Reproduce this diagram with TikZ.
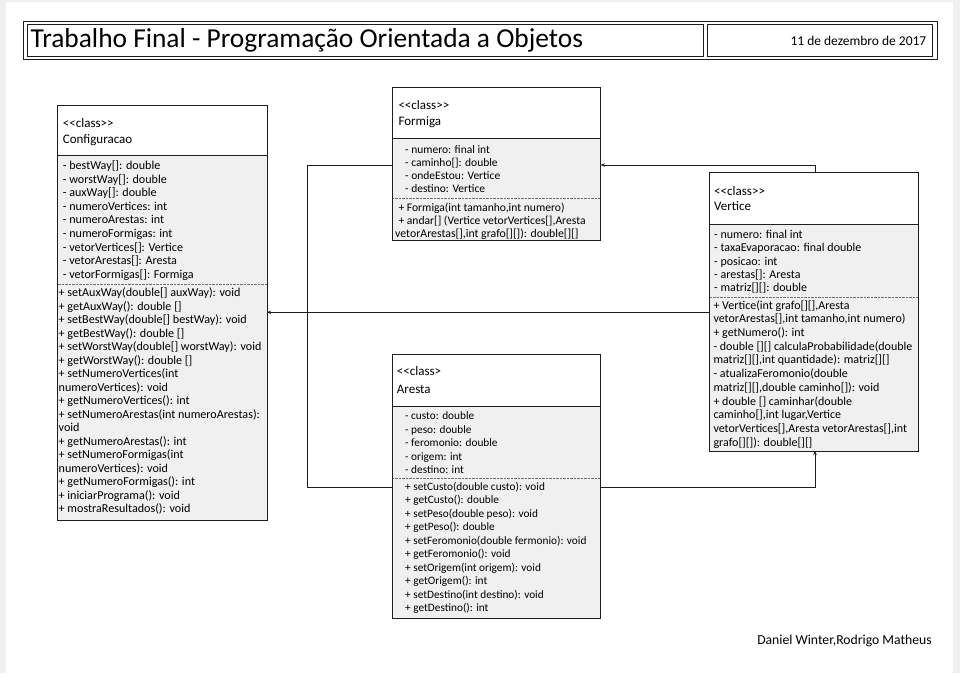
\documentclass[tikz,border=0pt]{standalone}
\usepackage{fontspec}
\setmainfont{Carlito}
\usetikzlibrary{arrows.meta}
\definecolor{bodyfill}{HTML}{F0F0F0}
\definecolor{pagegray}{HTML}{F0F0F0}
\definecolor{linec}{HTML}{1E1E1E}
\definecolor{sepc}{HTML}{707070}
\begin{document}
\begin{tikzpicture}[x=1pt,y=-1pt,
  classbody/.style={draw=linec, line width=0.9pt, fill=bodyfill, anchor=north west, inner sep=0, outer sep=0},
  classhead/.style={draw=linec, line width=0.9pt, fill=white, anchor=north west, inner sep=0, outer sep=0},
  sepline/.style={draw=sepc, line width=0.6pt, dash pattern=on 0.7pt off 0.7pt},
  txt/.style={font=\fontsize{#1}{13.5}\selectfont, inner sep=0, anchor=base west},
  txt/.default=12.1,
  hdr/.style={font=\fontsize{13}{15}\selectfont, inner sep=0, anchor=base west},
  conn/.style={draw=linec, line width=0.9pt},
  tip/.tip={Stealth[length=4pt,width=3.5pt]},
  frame/.style={draw=linec, line width=0.9pt, anchor=north west, inner sep=0, outer sep=0}
]
\useasboundingbox (0,0) rectangle (960,673);
\fill[pagegray] (0,0) rectangle (960,673);
\fill[white] (6,2) rectangle (953,673);

% ---------- title block ----------
\node[frame, minimum width=914, minimum height=38.5] (tframe) at (23,21) {};
\node[frame, minimum width=675.5, minimum height=32] (tcell) at (27.5,24) {};
\node[frame, minimum width=225, minimum height=32] (dcell) at (707.5,24) {};
\node[inner sep=0, anchor=base west, font=\fontsize{27.4}{30}\selectfont] (title) at (30.5,47.5) {Trabalho Final - Programação Orientada a Objetos};
\node[inner sep=0, anchor=base east, font=\fontsize{13.5}{15}\selectfont] (date) at (926.5,45) {11 de dezembro de 2017};

% ---------- Configuracao ----------
\node[classbody, minimum width=210, minimum height=415] (conf) at (57,105) {};
\node[classhead, minimum width=210, minimum height=50] (confh) at (57,105) {};
\draw[sepline] (57.5,284) -- (266.5,284);
\node[hdr] (confs) at (62.7,127) {<{}<class>{}>};
\node[hdr] (confn) at (62.7,143) {Configuracao};
\foreach \t [count=\i from 0] in {{- bestWay[]: double},{- worstWay[]: double},{- auxWay[]: double},{- numeroVertices: int},{- numeroArestas: int},{- numeroFormigas: int},{- vetorVertices[]: Vertice},{- vetorArestas[]: Aresta},{- vetorFormigas[]: Formiga}}
  \node[txt] (ca\i) at (62.7,169.5+13.6*\i) {\t};
\foreach \t [count=\i from 0] in {{+ setAuxWay(double[] auxWay): void},{+ getAuxWay(): double []},{+ setBestWay(double[] bestWay): void},{+ getBestWay(): double []},{+ setWorstWay(double[] worstWay): void},{+ getWorstWay(): double []},{+ setNumeroVertices(int},{numeroVertices): void},{+ getNumeroVertices(): int},{+ setNumeroArestas(int numeroArestas):},{void},{+ getNumeroArestas(): int},{+ setNumeroFormigas(int},{numeroVertices): void},{+ getNumeroFormigas(): int},{+ iniciarPrograma(): void},{+ mostraResultados(): void}}
  \node[txt] (cm\i) at (58.5,296.5+13.5*\i) {\t};

% ---------- Formiga ----------
\node[classbody, minimum width=208, minimum height=153] (form) at (392.7,87.3) {};
\node[classhead, minimum width=208, minimum height=50.7] (formh) at (392.7,87.3) {};
\draw[sepline] (393.2,198) -- (600.2,198);
\node[hdr] (forms) at (398.3,109) {<{}<class>{}>};
\node[hdr] (formn) at (398.3,125.7) {Formiga};
\foreach \t [count=\i from 0] in {{- numero: final int},{- caminho[]: double},{- ondeEstou: Vertice},{- destino: Vertice}}
  \node[txt=11.5] (fa\i) at (405,153.5+13.1*\i) {\t};
\node[txt=11.6] (fm0) at (398.3,211) {+ Formiga(int tamanho,int numero)};
\node[txt=11.6] (fm1) at (398.3,224) {+ andar[] (Vertice vetorVertices[],Aresta};
\node[txt=11.8] (fm2) at (395,237) {vetorArestas[],int grafo[][]): double[][]};

% ---------- Vertice ----------
\node[classbody, minimum width=208.7, minimum height=278.7] (vert) at (709.3,172.3) {};
\node[classhead, minimum width=208.7, minimum height=52] (verth) at (709.3,172.3) {};
\draw[sepline] (709.8,297.7) -- (917.5,297.7);
\node[hdr] (verts) at (714,195) {<{}<class>{}>};
\node[hdr] (vertn) at (714,210.7) {Vertice};
\foreach \t [count=\i from 0] in {{- numero: final int},{- taxaEvaporacao: final double},{- posicao: int},{- arestas[]: Aresta},{- matriz[][]: double}}
  \node[txt=12] (va\i) at (714,238.5+13.35*\i) {\t};
\foreach \t [count=\i from 0] in {{+ Vertice(int grafo[][],Aresta},{vetorArestas[],int tamanho,int numero)},{+ getNumero(): int},{- double [][] calculaProbabilidade(double},{matriz[][],int quantidade): matriz[][]},{- atualizaFeromonio(double},{matriz[][],double caminho[]): void},{+ double [] caminhar(double},{caminho[],int lugar,Vertice},{vetorVertices[],Aresta vetorArestas[],int},{grafo[][]): double[][]}}
  \node[txt=12] (vm\i) at (713.3,309.3+13.67*\i) {\t};

% ---------- Aresta ----------
\node[classbody, minimum width=208, minimum height=264.3] (ares) at (392.7,354) {};
\node[classhead, minimum width=208, minimum height=52] (aresh) at (392.7,354) {};
\draw[sepline] (393.2,478.3) -- (600.2,478.3);
\node[hdr] (aress) at (396.7,375.7) {<{}<class>};
\node[hdr] (aresn) at (396.7,393.3) {Aresta};
\foreach \t [count=\i from 0] in {{- custo: double},{- peso: double},{- feromonio: double},{- origem: int},{- destino: int}}
  \node[txt=11.3] (aa\i) at (405,419.5+13.5*\i) {\t};
\foreach \t [count=\i from 0] in {{+ setCusto(double custo): void},{+ getCusto(): double},{+ setPeso(double peso): void},{+ getPeso(): double},{+ setFeromonio(double fermonio): void},{+ getFeromonio(): void},{+ setOrigem(int origem): void},{+ getOrigem(): int},{+ setDestino(int destino): void},{+ getDestino(): int}}
  \node[txt=11.3] (am\i) at (405,490.2+13.5*\i) {\t};

% ---------- connectors ----------
\coordinate (cv) at (0,312.3);
\draw[conn, {tip}-] (conf.east |- cv) -- (vert.west |- cv);

\coordinate (fv) at (815,165);
\draw[conn, {tip}-] (form.east |- fv) -- (fv) -- (fv |- vert.north);

\coordinate (fa1) at (307,165);
\coordinate (fa2) at (307,487);
\draw[conn] (form.west |- fa1) -- (fa1) -- (fa2) -- (ares.west |- fa2);

\coordinate (av) at (815,487);
\draw[conn, -{tip}] (ares.east |- av) -- (av) -- (av |- vert.south);

% ---------- author ----------
\node[inner sep=0, anchor=base east, font=\fontsize{13.7}{15}\selectfont] (auth) at (932,644) {Daniel Winter,Rodrigo Matheus};
\end{tikzpicture}
\end{document}
